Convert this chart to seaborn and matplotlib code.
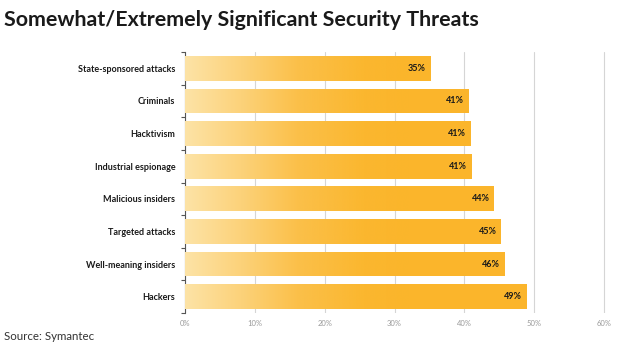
import numpy as np
import pandas as pd
import matplotlib
matplotlib.use("Agg")
import matplotlib.pyplot as plt
from matplotlib.colors import LinearSegmentedColormap
import seaborn as sns

categories = ["State-sponsored attacks", "Criminals", "Hacktivism", "Industrial espionage",
              "Malicious insiders", "Targeted attacks", "Well-meaning insiders", "Hackers"]
values = [35.2, 40.6, 40.9, 41.1, 44.3, 45.3, 45.8, 49.0]
value_labels = ["35%", "41%", "41%", "41%", "44%", "45%", "46%", "49%"]
xticks = [0, 10, 20, 30, 40, 50, 60]
xtick_labels = ["0%", "10%", "20%", "30%", "40%", "50%", "60%"]

df = pd.DataFrame({"threat": categories, "pct": values})

sns.set_theme(style="white")
plt.rcParams["font.family"] = ["Lato", "DejaVu Sans"]

fig = plt.figure(figsize=(6.2, 3.46), dpi=100)
ax = fig.add_axes([185/620, 1-313/346, (612-185)/620, (313-52)/346])

sns.barplot(data=df, x="pct", y="threat", orient="h", width=0.76, color="#FBB62E",
            ax=ax, zorder=2, linewidth=0)

xmax = 60 * (612-185) / (604-185)

cmap = LinearSegmentedColormap.from_list(
    "g", [(0.0, "#FDE3A6"), (0.25, "#FCD27A"), (0.5, "#FBC04A"), (0.8, "#FBB72F"), (1.0, "#FBB52B")])
grad = np.linspace(0, 1, 256).reshape(1, -1)
for p in ax.patches:
    im = ax.imshow(grad, cmap=cmap, extent=[0, 32, 7.5, -0.5], aspect="auto",
                   zorder=3, interpolation="bilinear")
    im.set_clip_path(p)
    p.set_facecolor("#FBB52B")
ax.set_xlim(0, xmax)
ax.set_ylim(7.5, -0.5)

for i, (v, lab) in enumerate(zip(values, value_labels)):
    ax.text(v - 0.7, i, lab, ha="right", va="center", fontsize=6.5,
            fontweight="bold", color="#1a1a1a", zorder=5)

ax.set_xticks(xticks)
ax.set_xticklabels(xtick_labels, fontsize=5.5, color="#9a9a9a")
ax.set_yticks(range(len(categories)))
ax.set_yticklabels(categories, fontsize=6.5, fontweight="bold", color="#1a1a1a")
ax.set_yticks(np.arange(-0.5, 8, 1), minor=True)
ax.tick_params(axis="y", which="major", length=0, pad=7)
ax.tick_params(axis="y", which="minor", length=3, width=0.8, color="#555555", left=True)
ax.tick_params(axis="x", length=0, pad=5)
ax.set_xlabel("")
ax.set_ylabel("")

ax.grid(axis="x", color="#d5d5d5", linewidth=0.8, zorder=0)
ax.set_axisbelow(True)
for s in ["top", "right", "bottom"]:
    ax.spines[s].set_visible(False)
ax.spines["left"].set_color("#555555")
ax.spines["left"].set_linewidth(0.8)

fig.text(4/620, 1-20/346, "Somewhat/Extremely Significant Security Threats",
         fontsize=15.4, fontweight="bold", color="#1a1a1a", ha="left", va="center")
fig.text(4/620, 1-337/346, "Source: Symantec", fontsize=8.3, color="#333333",
         ha="left", va="center")

fig.savefig("out.png", dpi=100)
